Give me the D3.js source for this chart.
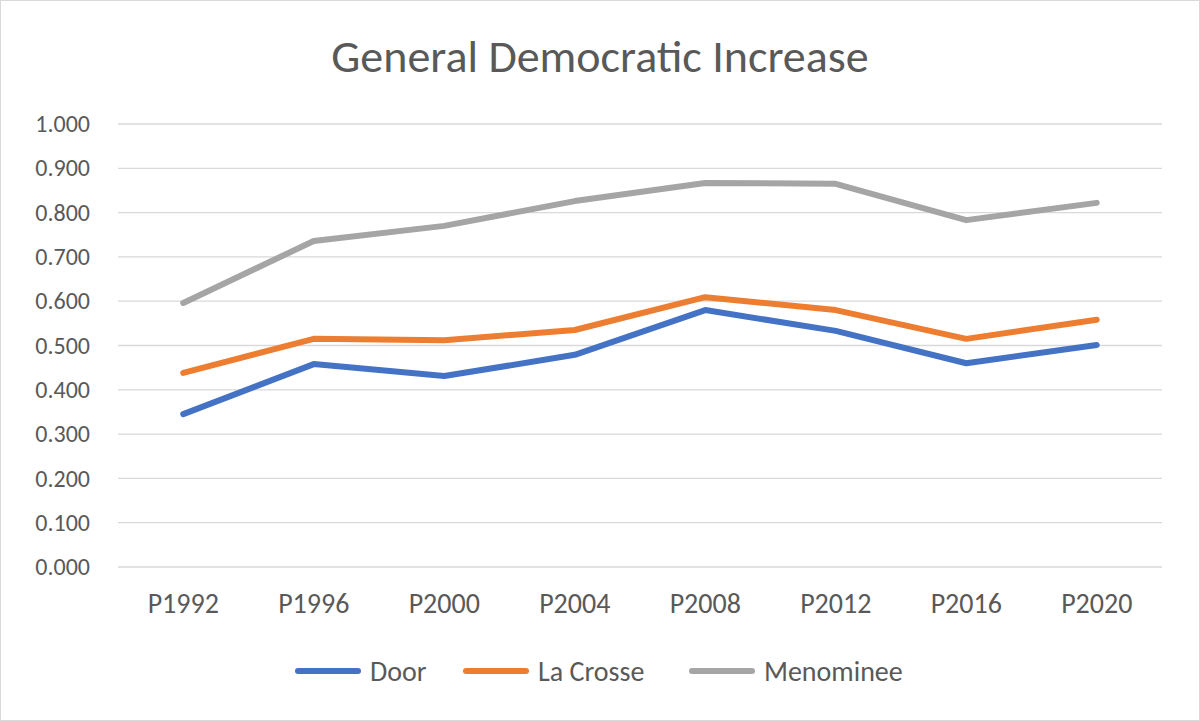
<!DOCTYPE html>
<html>
<head>
<meta charset="utf-8">
<script src="https://cdn.jsdelivr.net/npm/d3@7"></script>
<style>
  body { margin: 0; background: #fff; }
  text { font-family: Calibri, Carlito, "Open Sans", "Noto Sans", sans-serif; fill: #595959; }
</style>
</head>
<body>
<div id="chart"></div>
<script>
const categories = ["P1992", "P1996", "P2000", "P2004", "P2008", "P2012", "P2016", "P2020"];
const door = [0.345, 0.458, 0.431, 0.479, 0.580, 0.533, 0.460, 0.501];
const laCrosse = [0.438, 0.515, 0.512, 0.535, 0.609, 0.580, 0.515, 0.558];
const menominee = [0.596, 0.736, 0.770, 0.826, 0.867, 0.865, 0.783, 0.822];
const yTicks = [0, 0.1, 0.2, 0.3, 0.4, 0.5, 0.6, 0.7, 0.8, 0.9, 1.0];

const series = [
  { name: "Door", values: door, color: "#4472C4" },
  { name: "La Crosse", values: laCrosse, color: "#ED7D31" },
  { name: "Menominee", values: menominee, color: "#A5A5A5" }
];

const W = 1200, H = 721;
const margin = { top: 124, right: 38, bottom: 154, left: 118 };
const width = W - margin.left - margin.right, height = H - margin.top - margin.bottom;

const svg = d3.select("#chart").append("svg").attr("width", W).attr("height", H);
svg.append("rect").attr("x", 0.5).attr("y", 0.5).attr("width", W - 1).attr("height", H - 1)
  .attr("fill", "#fff").attr("stroke", "#d9d9d9");

svg.append("text").attr("x", W / 2).attr("y", 72).attr("text-anchor", "middle")
  .attr("font-size", 46).text("General Democratic Increase");

const g = svg.append("g").attr("transform", `translate(${margin.left},${margin.top})`);

const x = d3.scaleBand().domain(categories).range([0, width]);
const y = d3.scaleLinear().domain([0, 1]).range([height, 0]);

g.selectAll(".grid").data(yTicks).join("line")
  .attr("x1", 0).attr("x2", width)
  .attr("y1", d => y(d)).attr("y2", d => y(d))
  .attr("stroke", "#d9d9d9").attr("stroke-width", 1.3);

const font = "Calibri, Carlito, 'Open Sans', sans-serif";
const yAxis = g.append("g").call(d3.axisLeft(y).tickValues(yTicks).tickFormat(d3.format(".3f")).tickSize(0).tickPadding(28));
yAxis.select(".domain").remove();
yAxis.selectAll("text").attr("font-size", 24).style("fill", "#595959").attr("font-family", font);

const xAxis = g.append("g").attr("transform", `translate(0,${height})`)
  .call(d3.axisBottom(x).tickSize(0).tickPadding(26));
xAxis.select(".domain").remove();
xAxis.selectAll("text").attr("font-size", 28).style("fill", "#595959").attr("font-family", font);

const line = d3.line().x((d, i) => x(categories[i]) + x.bandwidth() / 2).y(d => y(d));
series.forEach(s => {
  g.append("path").datum(s.values).attr("d", line).attr("fill", "none")
    .attr("stroke", s.color).attr("stroke-width", 6).attr("stroke-linejoin", "round").attr("stroke-linecap", "round");
});

const legendX = [298, 466, 692];
const lg = svg.append("g");
series.forEach((s, i) => {
  lg.append("line").attr("x1", legendX[i]).attr("x2", legendX[i] + 60).attr("y1", 671).attr("y2", 671)
    .attr("stroke", s.color).attr("stroke-width", 6).attr("stroke-linecap", "round");
  lg.append("text").attr("x", legendX[i] + 72).attr("y", 681).attr("font-size", 28).text(s.name);
});
</script>
</body>
</html>
